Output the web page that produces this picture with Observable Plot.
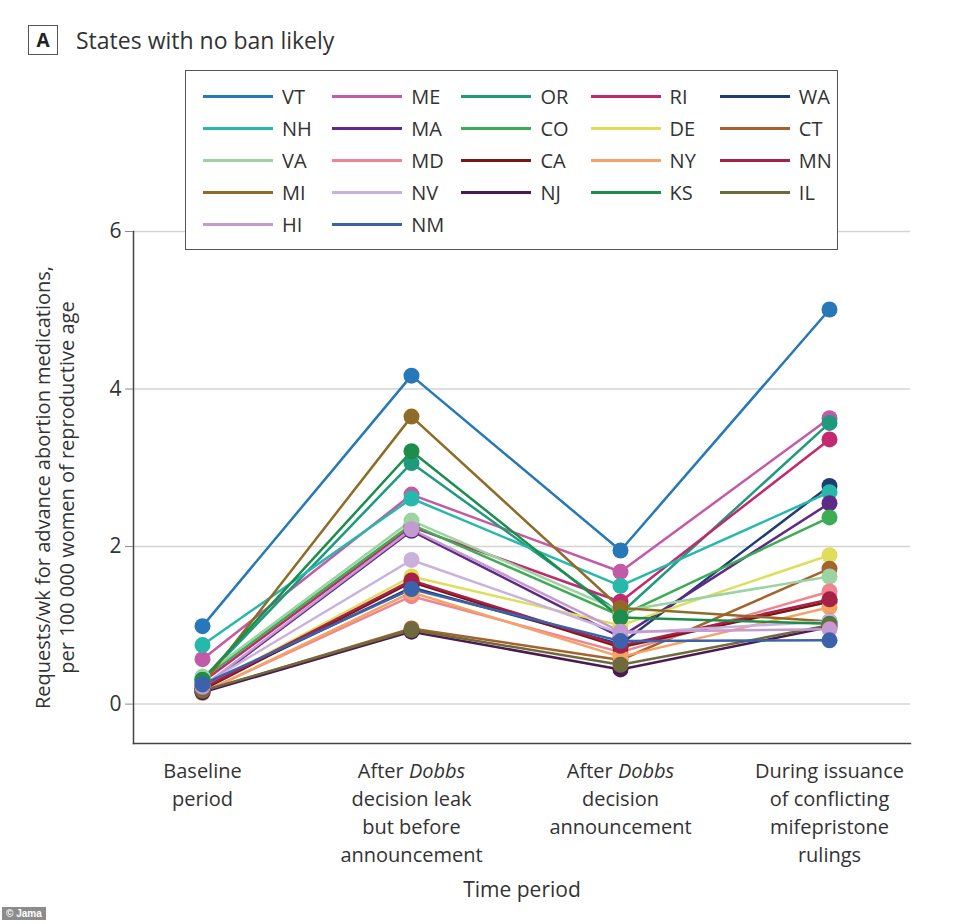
<!DOCTYPE html>
<html>
<head>
<meta charset="utf-8">
<script src="https://cdn.jsdelivr.net/npm/d3@7"></script>
<script src="https://cdn.jsdelivr.net/npm/@observablehq/plot@0.6"></script>
<style>
  html, body { margin: 0; padding: 0; background: #fff; }
  #wrap { position: relative; width: 962px; height: 924px; font-family: "Open Sans", sans-serif; color: #333; }
  #chart { position: absolute; left: 0; top: 0; }
  #title { position: absolute; left: 28px; top: 24px; display: flex; align-items: center; }
  #title .box { width: 28px; height: 28px; border: 1.5px solid #555; display: flex; align-items: center; justify-content: center; font-weight: bold; font-size: 19px; color: #222; }
  #title .txt { margin-left: 18px; font-size: 23px; color: #333; }
  #legend { position: absolute; left: 185px; top: 70px; width: 651px; height: 178px; border: 1.5px solid #555; background: #fff; }
  .item { position: absolute; display: flex; align-items: center; height: 20px; }
  .item .ln { width: 70px; height: 3px; }
  .item .lb { margin-left: 9px; font-size: 20px; color: #333; }
  #wm { position: absolute; left: 2px; top: 907px; background: #8c8c8c; color: #fff; font: bold 10px "Liberation Sans", sans-serif; padding: 1px 4px; }
</style>
</head>
<body>
<div id="wrap">
  <div id="chart"></div>
  <div id="title"><div class="box">A</div><div class="txt">States with no ban likely</div></div>
  <div id="legend"></div>
  <div id="wm">© Jama</div>
</div>
<script>
const periods = ["Baseline", "Leak", "Decision", "Rulings"];
const periodLabels = [
  "Baseline\nperiod",
  "After Dobbs\ndecision leak\nbut before\nannouncement",
  "After Dobbs\ndecision\nannouncement",
  "During issuance\nof conflicting\nmifepristone\nrulings"
];
const states = ["VT","ME","OR","RI","WA","NH","MA","CO","DE","CT","VA","MD","CA","NY","MN","MI","NV","NJ","KS","IL","HI","NM"];
const colors = ["#2678b8","#c25aa8","#1f9a7c","#c2296e","#203d72","#27b8ac","#5e2a87","#3cad52","#dede5a","#a4622e","#9dd3a2","#ee8590","#7b1616","#f4a266","#a52146","#8e6c28","#c8b2dc","#4b1a50","#1e8c4a","#6e6a3c","#c49ad0","#3b62aa"];
const baseline = [0.99,0.57,0.30,0.28,0.22,0.75,0.20,0.32,0.20,0.16,0.35,0.15,0.18,0.14,0.20,0.25,0.24,0.15,0.31,0.17,0.22,0.25];
const leak     = [4.17,2.66,3.06,2.25,1.48,2.61,2.20,2.28,1.62,0.96,2.33,1.37,1.55,1.42,1.57,3.65,1.83,0.92,3.21,0.94,2.22,1.46];
const decision = [1.95,1.68,1.15,1.30,0.76,1.50,0.85,1.12,1.00,0.56,1.18,0.66,0.72,0.60,0.74,1.22,0.90,0.44,1.10,0.50,0.92,0.80];
const rulings  = [5.01,3.63,3.57,3.36,2.77,2.69,2.55,2.37,1.89,1.72,1.62,1.43,1.30,1.23,1.33,1.05,1.05,0.98,1.02,1.00,0.95,0.81];
const yTicks = [0, 2, 4, 6];
const yLabel = "Requests/wk for advance abortion medications,\nper 100 000 women of reproductive age";
const xLabel = "Time period";

const series = [baseline, leak, decision, rulings];
const data = [];
states.forEach((s, i) => {
  periods.forEach((p, j) => data.push({state: s, period: p, value: series[j][i]}));
});

const chart = Plot.plot({
  width: 962,
  height: 924,
  marginLeft: 133,
  marginRight: 52,
  marginTop: 231,
  marginBottom: 181,
  style: {fontFamily: "Open Sans, sans-serif", color: "#333", background: "transparent"},
  x: {type: "point", domain: periods, range: [202, 829], padding: 0},
  y: {domain: [-0.5, 6]},
  color: {domain: states, range: colors},
  marks: [
    Plot.gridY(yTicks, {stroke: "#d4d4d4", strokeOpacity: 1, strokeWidth: 1.5}),
    Plot.frame({anchor: "left", stroke: "#444", strokeWidth: 1.5}),
    Plot.frame({anchor: "bottom", stroke: "#444", strokeWidth: 1.5}),
    Plot.axisY(yTicks, {tickSize: 8, tickPadding: 4, fontSize: 21, stroke: "#888", label: null, tickFormat: (d) => String(d)}),
    Plot.axisX({tickSize: 0, tickPadding: 15, fontSize: 20, lineHeight: 1.4, tickFormat: (d) => periodLabels[periods.indexOf(d)], label: null}),
    Plot.text([yLabel], {frameAnchor: "left", dx: -79, rotate: -90, textAnchor: "middle", lineAnchor: "middle", lineHeight: 1.2, fontSize: 20, fill: "#333"}),
    Plot.text([xLabel], {frameAnchor: "bottom", dy: 147, textAnchor: "middle", lineAnchor: "middle", fontSize: 21, fill: "#333"}),
    Plot.line(data, {x: "period", y: "value", z: "state", stroke: "state", strokeWidth: 2.5}),
    Plot.dot(data, {x: "period", y: "value", fill: "state", r: 8})
  ]
});

// italicize "Dobbs" in tick labels
chart.querySelectorAll("tspan, text").forEach(el => {
  if (el.childElementCount === 0 && el.textContent.startsWith("After Dobbs")) {
    el.textContent = "After ";
    const it = document.createElementNS("http://www.w3.org/2000/svg", "tspan");
    it.setAttribute("font-style", "italic");
    it.textContent = "Dobbs";
    el.appendChild(it);
  }
});

document.getElementById("chart").appendChild(chart);

// legend built from the same arrays
const legend = document.getElementById("legend");
states.forEach((s, i) => {
  const row = Math.floor(i / 5), col = i % 5;
  const d = document.createElement("div");
  d.className = "item";
  d.style.left = (17 + col * 129.2) + "px";
  d.style.top = (15 + row * 32) + "px";
  d.innerHTML = `<div class="ln" style="background:${colors[i]}"></div><div class="lb">${s}</div>`;
  legend.appendChild(d);
});
</script>
</body>
</html>
